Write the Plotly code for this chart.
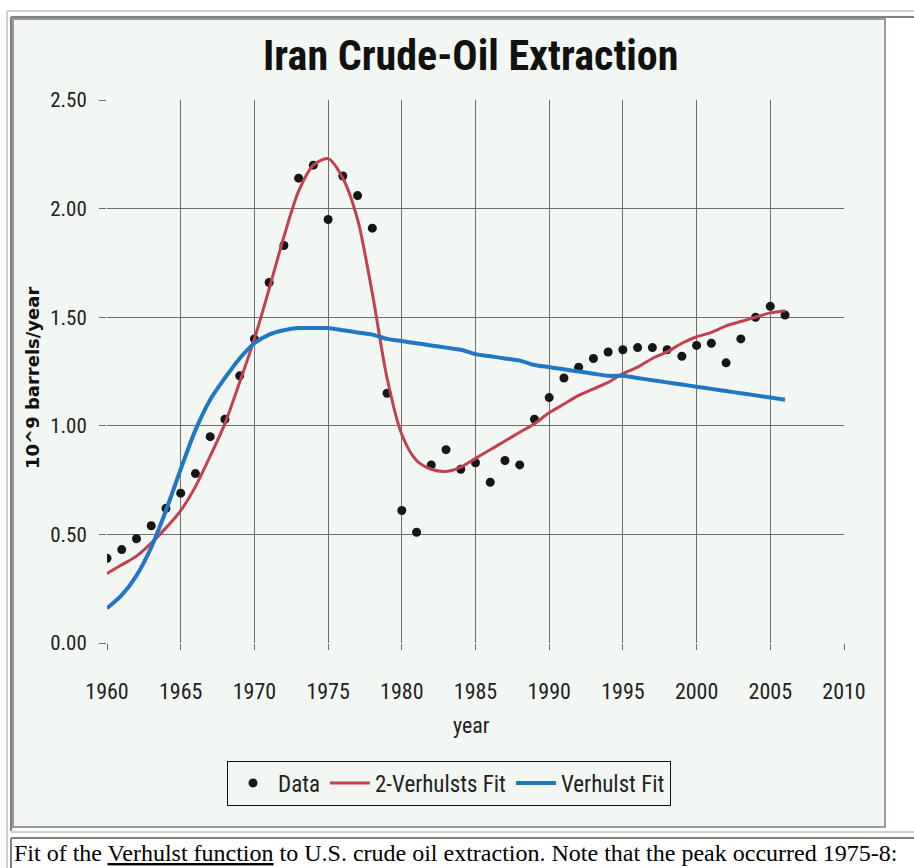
import plotly.graph_objects as go

years = list(range(1960, 2007))

data_vals = [0.39, 0.43, 0.48, 0.54, 0.62, 0.69, 0.78, 0.95, 1.03, 1.23,
             1.40, 1.66, 1.83, 2.14, 2.20, 1.95, 2.15, 2.06, 1.91, 1.15,
             0.61, 0.51, 0.82, 0.89, 0.80, 0.83, 0.74, 0.84, 0.82, 1.03,
             1.13, 1.22, 1.27, 1.31, 1.34, 1.35, 1.36, 1.36, 1.35, 1.32,
             1.37, 1.38, 1.29, 1.40, 1.50, 1.55, 1.51]

two_verhulst_fit = [0.32, 0.36, 0.40, 0.46, 0.53, 0.61, 0.72, 0.86, 1.01, 1.20,
                    1.40, 1.63, 1.87, 2.08, 2.20, 2.23, 2.14, 1.95, 1.61, 1.22,
                    0.96, 0.84, 0.80, 0.79, 0.81, 0.85, 0.89, 0.93, 0.97, 1.01,
                    1.06, 1.10, 1.14, 1.17, 1.20, 1.24, 1.27, 1.31, 1.34, 1.38,
                    1.41, 1.43, 1.46, 1.48, 1.50, 1.52, 1.53]

verhulst_fit = [0.16, 0.22, 0.31, 0.44, 0.61, 0.80, 0.98, 1.12, 1.22, 1.31,
                1.38, 1.42, 1.44, 1.45, 1.45, 1.45, 1.44, 1.43, 1.42, 1.40,
                1.39, 1.38, 1.37, 1.36, 1.35, 1.33, 1.32, 1.31, 1.30, 1.28,
                1.27, 1.26, 1.25, 1.24, 1.23, 1.23, 1.22, 1.21, 1.20, 1.19,
                1.18, 1.17, 1.16, 1.15, 1.14, 1.13, 1.12]

x_ticks = [1960, 1965, 1970, 1975, 1980, 1985, 1990, 1995, 2000, 2005, 2010]
y_ticks = [0.0, 0.5, 1.0, 1.5, 2.0, 2.5]

W, H = 914, 868
L, R, T, B = 107, 844, 100, 643  # plot area in pixels


def fx(px):
    return (px - L) / (R - L)


def fy(py):
    return (B - py) / (B - T)


NARROW = "Roboto Condensed, Liberation Sans Narrow, DejaVu Sans Condensed, Lato, sans-serif"
BG = "#f3f7f3"

fig = go.Figure()
fig.add_trace(go.Scatter(x=years, y=data_vals, mode="markers", name="Data",
                         marker=dict(color="#161616", size=9)))
fig.add_trace(go.Scatter(x=years, y=two_verhulst_fit, mode="lines", name="2-Verhulsts Fit",
                         line=dict(color="#c2414f", width=3, shape="spline", smoothing=0.8)))
fig.add_trace(go.Scatter(x=years, y=verhulst_fit, mode="lines", name="Verhulst Fit",
                         line=dict(color="#2277c4", width=4, shape="spline", smoothing=0.8)))

shapes = []
# chart image background and border
shapes.append(dict(type="rect", xref="paper", yref="paper", x0=fx(13), x1=fx(885),
                   y0=fy(827), y1=fy(19), fillcolor=BG, line=dict(color="#9a9a9a", width=2),
                   layer="below"))
# table borders
light = "#d4d0c8"
dark = "#808080"
shapes += [
    dict(type="line", xref="paper", yref="paper", x0=fx(7), x1=fx(914), y0=fy(11), y1=fy(11),
         line=dict(color=light, width=2)),
    dict(type="line", xref="paper", yref="paper", x0=fx(7), x1=fx(7), y0=fy(11), y1=fy(868),
         line=dict(color=light, width=2)),
    dict(type="line", xref="paper", yref="paper", x0=fx(11), x1=fx(914), y0=fy(17), y1=fy(17),
         line=dict(color=dark, width=2)),
    dict(type="line", xref="paper", yref="paper", x0=fx(11), x1=fx(11), y0=fy(17), y1=fy(831),
         line=dict(color=dark, width=2)),
    dict(type="line", xref="paper", yref="paper", x0=fx(11), x1=fx(914), y0=fy(832), y1=fy(832),
         line=dict(color=light, width=2)),
    dict(type="line", xref="paper", yref="paper", x0=fx(11), x1=fx(914), y0=fy(838), y1=fy(838),
         line=dict(color=dark, width=2)),
    dict(type="line", xref="paper", yref="paper", x0=fx(11), x1=fx(11), y0=fy(838), y1=fy(868),
         line=dict(color=dark, width=2)),
]

annotations = [
    dict(text="<b>Iran Crude-Oil Extraction</b>", xref="paper", yref="paper",
         x=fx(470), y=fy(55), xanchor="center", yanchor="middle", showarrow=False,
         font=dict(family=NARROW, size=42, color="#111111")),
    dict(text="<b>10^9 barrels/year</b>", xref="paper", yref="paper",
         x=fx(32), y=fy(378), xanchor="center", yanchor="middle", showarrow=False,
         textangle=-90, font=dict(family="DejaVu Sans, Verdana, sans-serif", size=18, color="#111111")),
    dict(text="year", xref="paper", yref="paper",
         x=fx(471), y=fy(725), xanchor="center", yanchor="middle", showarrow=False,
         font=dict(family=NARROW, size=22, color="#222222")),
    dict(text="Fit of the <u>Verhulst function</u> to U.S. crude oil extraction. Note that the peak occurred 1975-8:",
         xref="paper", yref="paper", x=fx(13), y=fy(853), xanchor="left", yanchor="middle",
         showarrow=False, borderpad=0,
         font=dict(family="Liberation Serif, Times New Roman, serif", size=24, color="#000000")),
]

fig.update_layout(
    width=W, height=H,
    margin=dict(l=L, r=W - R, t=T, b=H - B),
    paper_bgcolor="white",
    plot_bgcolor="rgba(0,0,0,0)",
    shapes=shapes,
    annotations=annotations,
    showlegend=True,
    legend=dict(orientation="h", x=fx(449), y=fy(783), xanchor="center", yanchor="middle",
                bgcolor=BG, bordercolor="#111111", borderwidth=1,
                font=dict(family=NARROW, size=23, color="#222222"),
                itemwidth=40, tracegroupgap=0),
    xaxis=dict(range=[1960, 2010], tickvals=x_ticks, ticktext=[str(v) for v in x_ticks],
               showgrid=True, gridcolor="#6e6e6e", gridwidth=1, zeroline=False,
               ticks="outside", ticklen=6, tickcolor="#6e6e6e",
               tickfont=dict(family=NARROW, size=22, color="#222222"),
               ticklabelstandoff=23, showline=False, fixedrange=True),
    yaxis=dict(range=[0, 2.5], tickvals=y_ticks, tickformat=".2f",
               showgrid=True, gridcolor="#6e6e6e", gridwidth=1, zeroline=False,
               ticks="outside", ticklen=7, tickcolor="#6e6e6e",
               tickfont=dict(family=NARROW, size=21, color="#222222"),
               ticklabelstandoff=8, showline=False, fixedrange=True),
)

fig.write_html("out.html", config={"displayModeBar": False},
               post_script="document.body.style.margin='0';document.body.style.overflow='hidden';")
